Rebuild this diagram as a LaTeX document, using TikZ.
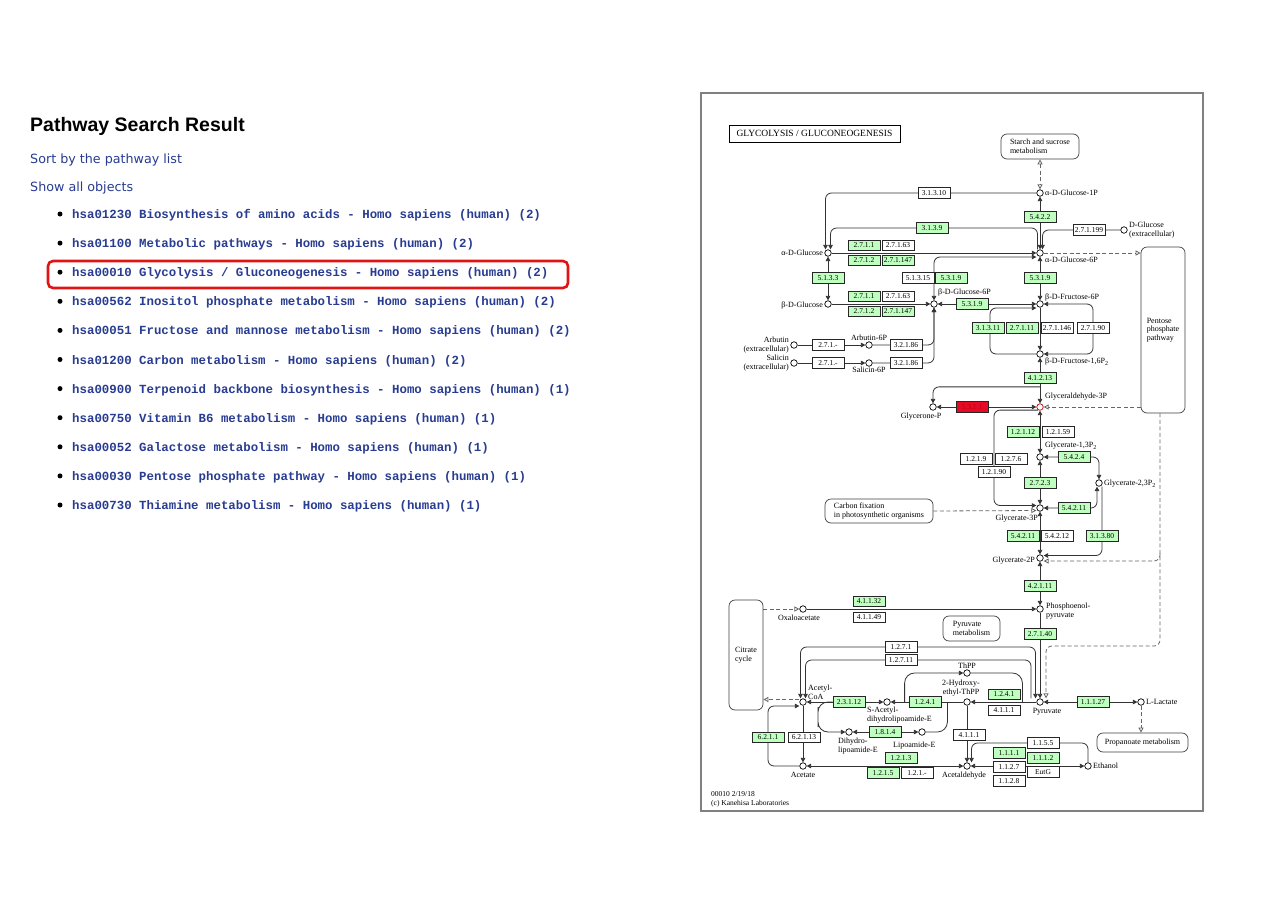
\documentclass[tikz,border=0pt]{standalone}
\usepackage{fontspec}
\setmainfont{Liberation Serif}
\newfontfamily\headfont{Liberation Sans}
\newfontfamily\linkfont{DejaVu Sans}
\newfontfamily\codefont{Liberation Mono}
\usepackage{tikz}
\usetikzlibrary{positioning,arrows.meta,calc}
\pgfdeclarelayer{wires}
\pgfsetlayers{wires,main}
\definecolor{keggreen}{RGB}{191,255,191}
\definecolor{linkblue}{RGB}{40,60,145}
\definecolor{hitred}{RGB}{230,10,40}
\definecolor{markred}{RGB}{225,20,20}

\begin{document}
\begin{tikzpicture}[x=1pt, y=-1pt,
    ec/.style={draw=black!85, line width=0.6pt, fill=white, minimum width=32pt, minimum height=10.5pt, inner sep=0pt, font=\fontsize{7.5}{8}\selectfont},
    ecg/.style={ec, fill=keggreen},
    cpd/.style={circle, draw=black, line width=0.7pt, fill=white, minimum size=6.5pt, inner sep=0pt},
    cname/.style={font=\fontsize{8}{8.6}\selectfont, inner sep=0pt},
    mapbox/.style={draw=black!75, line width=0.7pt, rounded corners=6pt, align=left, inner sep=2pt, font=\fontsize{8}{8.6}\selectfont},
    rxn/.style={draw=black!80, line width=0.8pt, rounded corners=6pt},
    fwd/.style={rxn, -{Triangle[length=4.5pt,width=4.5pt]}},
    rev/.style={rxn, {Triangle[length=4.5pt,width=4.5pt]}-{Triangle[length=4.5pt,width=4.5pt]}},
    link/.style={draw=black!60, line width=0.8pt, dash pattern=on 4pt off 2.5pt, rounded corners=6pt, -{Triangle[open,length=5pt,width=5pt]}},
    listitem/.style={anchor=base west, inner sep=0pt, text=linkblue, font=\codefont\bfseries\fontsize{12.4}{14}\selectfont}
]
\useasboundingbox (0,0) rectangle (1280,905);
\begin{pgfonlayer}{wires}
\fill[white] (0,0) rectangle (1280,905);
\end{pgfonlayer}

\node[anchor=base west, inner sep=0pt, font=\headfont\bfseries\fontsize{19.5}{22}\selectfont] (heading) at (30,131.5) {Pathway Search Result};
\node[anchor=base west, inner sep=0pt, text=linkblue, font=\linkfont\fontsize{12.7}{15}\selectfont] (sortlink) at (30,163) {Sort by the pathway list};
\node[anchor=base west, inner sep=0pt, text=linkblue, font=\linkfont\fontsize{12.7}{15}\selectfont] (showlink) at (30,191) {Show all objects};
\foreach \entry [count=\i] in {
  hsa01230 Biosynthesis of amino acids - Homo sapiens (human) (2),
  hsa01100 Metabolic pathways - Homo sapiens (human) (2),
  hsa00010 Glycolysis / Gluconeogenesis - Homo sapiens (human) (2),
  hsa00562 Inositol phosphate metabolism - Homo sapiens (human) (2),
  hsa00051 Fructose and mannose metabolism - Homo sapiens (human) (2),
  hsa01200 Carbon metabolism - Homo sapiens (human) (2),
  hsa00900 Terpenoid backbone biosynthesis - Homo sapiens (human) (1),
  hsa00750 Vitamin B6 metabolism - Homo sapiens (human) (1),
  hsa00052 Galactose metabolism - Homo sapiens (human) (1),
  hsa00030 Pentose phosphate pathway - Homo sapiens (human) (1),
  hsa00730 Thiamine metabolism - Homo sapiens (human) (1)}{
  \node[listitem] (entry\i) at (72,{218.5+29.1*(\i-1)}) {\entry};
  \node[circle, fill=black, inner sep=0pt, minimum size=5pt] (dot\i) at (60,{214+29.1*(\i-1)}) {};
}
\node[draw=markred, line width=2.6pt, rounded corners=5pt, minimum width=520pt, minimum height=27pt, inner sep=0pt] (hitframe) at (308,274.5) {};

\node[draw=black!50, line width=1.3pt, minimum width=502pt, minimum height=718pt, inner sep=0pt] (mapframe) at (952,452) {};
\node[draw=black, line width=0.9pt, minimum width=171pt, minimum height=17pt, inner sep=0pt, font=\fontsize{9.5}{10}\selectfont] (maptitle) at (814.5,133.5) {GLYCOLYSIS / GLUCONEOGENESIS};
\node[anchor=north west, align=left, inner sep=0pt, font=\fontsize{7.5}{9}\selectfont] (stamp) at (711,791) {00010 2/19/18\\(c) Kanehisa Laboratories};

\node[mapbox, minimum width=78pt, minimum height=25pt] (starch) at (1040,146.5) {Starch and sucrose\\metabolism};
\node[mapbox, minimum width=44pt, minimum height=166pt] (pentose) at (1163,330) {Pentose\\phosphate\\pathway};
\node[mapbox, minimum width=108pt, minimum height=24pt] (carbon) at (879,511) {Carbon fixation\\in photosynthetic organisms};
\node[mapbox, minimum width=34pt, minimum height=110pt] (citrate) at (746,655) {Citrate\\cycle};
\node[mapbox, minimum width=57pt, minimum height=25pt] (pyrmet) at (971.5,628.5) {Pyruvate\\metabolism};
\node[mapbox, minimum width=91pt, minimum height=19pt] (propmet) at (1142.5,742.5) {Propanoate metabolism};

\node[cpd] (aglc) at (828,253) {};
\node[cpd] (bglc) at (828,304) {};
\node[cpd] (ag1p) at (1040,193) {};
\node[cpd] (ag6p) at (1040,253) {};
\node[cpd] (dglc) at (1124,230) {};
\node[cpd] (bg6p) at (934,304) {};
\node[cpd] (f6p) at (1040,304) {};
\node[cpd] (fbp) at (1040,354) {};
\node[cpd, draw=red!75!black] (gap) at (1040,407) {};
\node[cpd] (dhap) at (933,407) {};
\node[cpd] (bpg13) at (1040,457) {};
\node[cpd] (bpg23) at (1099,483) {};
\node[cpd] (pg3) at (1040,508) {};
\node[cpd] (pg2) at (1040,558) {};
\node[cpd] (pep) at (1040,609) {};
\node[cpd] (oaa) at (803,609) {};
\node[cpd] (pyr) at (1040,702) {};
\node[cpd] (lac) at (1141,702) {};
\node[cpd] (accoa) at (803,702) {};
\node[cpd] (thpp) at (967,673) {};
\node[cpd] (hetpp) at (967,702) {};
\node[cpd] (sacl) at (887,702) {};
\node[cpd] (dhl) at (849,732) {};
\node[cpd] (lip) at (922,732) {};
\node[cpd] (acet) at (803,766) {};
\node[cpd] (acald) at (967,766) {};
\node[cpd] (etoh) at (1088,766) {};
\node[cpd] (arb) at (794,345) {};
\node[cpd] (arb6p) at (869,345) {};
\node[cpd] (sal) at (794,363) {};
\node[cpd] (sal6p) at (869,363) {};

\node[cname, anchor=east] (aglcname) at ($(aglc)+(-5,0)$) {α-D-Glucose};
\node[cname, anchor=east] (bglcname) at ($(bglc)+(-5,2)$) {β-D-Glucose};
\node[cname, anchor=west] (ag1pname) at ($(ag1p)+(5,0)$) {α-D-Glucose-1P};
\node[cname, anchor=west] (ag6pname) at ($(ag6p)+(5,7)$) {α-D-Glucose-6P};
\node[cname, anchor=west, align=left] (dglcname) at ($(dglc)+(5,0)$) {D-Glucose\\(extracellular)};
\node[cname, anchor=west] (bg6pname) at ($(bg6p)+(4,-11)$) {β-D-Glucose-6P};
\node[cname, anchor=west] (f6pname) at ($(f6p)+(5,-6)$) {β-D-Fructose-6P};
\node[cname, anchor=west] (fbpname) at ($(fbp)+(5,8)$) {β-D-Fructose-1,6P\textsubscript{2}};
\node[cname, anchor=west] (gapname) at ($(gap)+(5,-10)$) {Glyceraldehyde-3P};
\node[cname, anchor=north] (dhapname) at ($(dhap)+(-12,6)$) {Glycerone-P};
\node[cname, anchor=west] (bpg13name) at ($(bpg13)+(5,-11)$) {Glycerate-1,3P\textsubscript{2}};
\node[cname, anchor=west] (bpg23name) at ($(bpg23)+(5,1)$) {Glycerate-2,3P\textsubscript{2}};
\node[cname, anchor=east] (pg3name) at ($(pg3)+(-2,11)$) {Glycerate-3P};
\node[cname, anchor=east] (pg2name) at ($(pg2)+(-5,3)$) {Glycerate-2P};
\node[cname, anchor=west, align=left] (pepname) at ($(pep)+(6,2)$) {Phosphoenol-\\pyruvate};
\node[cname, anchor=north] (oaaname) at ($(oaa)+(-4,6)$) {Oxaloacetate};
\node[cname, anchor=north] (pyrname) at ($(pyr)+(7,6)$) {Pyruvate};
\node[cname, anchor=west] (lacname) at ($(lac)+(5,0)$) {L-Lactate};
\node[cname, anchor=west, align=left] (accoaname) at ($(accoa)+(5,-10)$) {Acetyl-\\CoA};
\node[cname, anchor=south] (thppname) at ($(thpp)+(0,-4)$) {ThPP};
\node[cname, anchor=south, align=center] (hetppname) at ($(hetpp)+(-6,-6)$) {2-Hydroxy-\\ethyl-ThPP};
\node[cname, anchor=north west, align=left] (saclname) at ($(sacl)+(-20,5)$) {S-Acetyl-\\dihydrolipoamide-E};
\node[cname, anchor=north west, align=left] (dhlname) at ($(dhl)+(-11,6)$) {Dihydro-\\lipoamide-E};
\node[cname, anchor=west] (lipname) at ($(lip)+(-29,14)$) {Lipoamide-E};
\node[cname, anchor=north] (acetname) at ($(acet)+(0,6)$) {Acetate};
\node[cname, anchor=north] (acaldname) at ($(acald)+(-3,6)$) {Acetaldehyde};
\node[cname, anchor=west] (etohname) at ($(etoh)+(5,0)$) {Ethanol};
\node[cname, anchor=east, align=right] (arbname) at ($(arb)+(-5,0)$) {Arbutin\\(extracellular)};
\node[cname, anchor=south] (arb6pname) at ($(arb6p)+(0,-4)$) {Arbutin-6P};
\node[cname, anchor=east, align=right] (salname) at ($(sal)+(-5,0)$) {Salicin\\(extracellular)};
\node[cname, anchor=north] (sal6pname) at ($(sal6p)+(0,4)$) {Salicin-6P};

\node[ec] (e31310) at (934,193) {3.1.3.10};
\node[ecg] (e3139) at (932,228) {3.1.3.9};
\node[ecg] (e5422) at (1040,217) {5.4.2.2};
\node[ec] (e271199) at (1089,230) {2.7.1.199};
\node[ecg] (e2711a) at (864,245.5) {2.7.1.1};
\node[ec] (e27163a) at (898,245.5) {2.7.1.63};
\node[ecg] (e2712a) at (864,260.5) {2.7.1.2};
\node[ecg] (e271147a) at (898,260.5) {2.7.1.147};
\node[ecg] (e5133) at (828,278) {5.1.3.3};
\node[ec] (e51315) at (918,278) {5.1.3.15};
\node[ecg] (e5319a) at (951,278) {5.3.1.9};
\node[ecg] (e5319b) at (1040,278) {5.3.1.9};
\node[ecg] (e2711b) at (864,296.5) {2.7.1.1};
\node[ec] (e27163b) at (898,296.5) {2.7.1.63};
\node[ecg] (e2712b) at (864,311.5) {2.7.1.2};
\node[ecg] (e271147b) at (898,311.5) {2.7.1.147};
\node[ecg] (e5319c) at (972,304) {5.3.1.9};
\node[ecg] (e31311) at (988,328) {3.1.3.11};
\node[ecg] (e27111) at (1022,328) {2.7.1.11};
\node[ec] (e271146) at (1057,328) {2.7.1.146};
\node[ec] (e27190) at (1093,328) {2.7.1.90};
\node[ec] (e2717a) at (828,345) {2.7.1.-};
\node[ec] (e32186a) at (906,345) {3.2.1.86};
\node[ec] (e2717b) at (828,363) {2.7.1.-};
\node[ec] (e32186b) at (906,363) {3.2.1.86};
\node[ecg] (e41213) at (1040,378) {4.1.2.13};
\node[ec, fill=hitred, text=red!75!black] (e5311) at (972,407) {5.3.1.1};
\node[ecg] (e12112) at (1023,432) {1.2.1.12};
\node[ec] (e12159) at (1058,432) {1.2.1.59};
\node[ec] (e1219) at (976,459) {1.2.1.9};
\node[ec] (e1276) at (1011,459) {1.2.7.6};
\node[ec] (e12190) at (994,472) {1.2.1.90};
\node[ecg] (e5424) at (1074,457) {5.4.2.4};
\node[ecg] (e2723) at (1040,483) {2.7.2.3};
\node[ecg] (e54211a) at (1074,508) {5.4.2.11};
\node[ecg] (e54211b) at (1023,536) {5.4.2.11};
\node[ec] (e54212) at (1057,536) {5.4.2.12};
\node[ecg] (e31380) at (1102,536) {3.1.3.80};
\node[ecg] (e42111) at (1040,586) {4.2.1.11};
\node[ecg] (e41132) at (869,601.5) {4.1.1.32};
\node[ec] (e41149) at (869,617.5) {4.1.1.49};
\node[ecg] (e27140) at (1040,634) {2.7.1.40};
\node[ec] (e1271) at (901,647) {1.2.7.1};
\node[ec] (e12711) at (901,660) {1.2.7.11};
\node[ecg] (e23112) at (849,702) {2.3.1.12};
\node[ecg] (e1241a) at (925,702) {1.2.4.1};
\node[ecg] (e1241b) at (1004,694.5) {1.2.4.1};
\node[ec] (e4111a) at (1004,710.5) {4.1.1.1};
\node[ecg] (e11127) at (1093,702) {1.1.1.27};
\node[ecg] (e1814) at (885,732) {1.8.1.4};
\node[ec] (e4111b) at (969,735) {4.1.1.1};
\node[ecg] (e6211) at (768,737.5) {6.2.1.1};
\node[ec] (e62113) at (804,737.5) {6.2.1.13};
\node[ecg] (e1213) at (901,758) {1.2.1.3};
\node[ecg] (e1215) at (883,773) {1.2.1.5};
\node[ec] (e121x) at (917,773) {1.2.1.-};
\node[ec] (e1155) at (1043,743) {1.1.5.5};
\node[ecg] (e1111) at (1009,753) {1.1.1.1};
\node[ecg] (e1112) at (1043,758) {1.1.1.2};
\node[ec] (e1127) at (1009,767) {1.1.2.7};
\node[ec] (eEutG) at (1043,772) {EutG};
\node[ec] (e1128) at (1009,781) {1.1.2.8};

\begin{pgfonlayer}{wires}
\draw[fwd] (ag1p.west) -| ($(aglc.north)+(-2.5,0)$);
\draw[fwd] ($(ag6p.north)+(-2.5,0)$) |- (e3139.center) -| ($(aglc.north)+(2.5,0)$);
\draw[rev] (ag1p) -- (ag6p);
\draw[fwd] (dglc.west) -| ($(ag6p.north)+(2.5,0)$);
\draw[link, {Triangle[open,length=5pt,width=5pt]}-{Triangle[open,length=5pt,width=5pt]}] (starch) -- (ag1p);
\draw[rev] (aglc) -- (bglc);
\draw[fwd] (aglc) -- (ag6p);
\draw[rev] (bg6p.north) |- ($(ag6p.west)+(0,4)$);
\draw[link] (ag6p) -- (pentose.west |- ag6p);
\draw[rev] (ag6p) -- (f6p);
\draw[fwd] (bglc) -- (bg6p);
\draw[rev] (bg6p) -- (f6p);
\draw[fwd] (arb) -- (arb6p);
\draw[fwd] (arb6p) -| (bg6p.south);
\draw[fwd] (sal) -- (sal6p);
\draw[fwd] (sal6p) -| (bg6p.south);
\draw[fwd] (f6p) -- (fbp);
\draw[fwd] (fbp.west) -| (990,330) |- ($(f6p.west)+(0,4)$);
\draw[rev] (f6p.east) -| (1093,330) |- (fbp.east);
\draw[rev] (fbp) -- (gap);
\draw[fwd] ($(fbp)!0.62!(gap)$) -| (dhap.north);
\draw[rev] (dhap) -- (gap);
\draw[link] (pentose.west |- gap) -- (gap);
\draw[rev] (gap) -- (bpg13);
\draw[fwd] (gap.240) -| (994,440) |- ($(pg3.west)+(0,-2.5)$);
\draw[rev] (bpg13) -- (pg3);
\draw[rev] (bpg13.east) -| (bpg23.north);
\draw[rev] (pg3.east) -| ($(bpg23.south)+(-2,0)$);
\draw[fwd] ($(bpg23.south)+(3,0)$) |- ($(pg2.east)+(0,-2.5)$);
\draw[link] (carbon.east) -- ($(pg3.west)+(0,2.5)$);
\draw[rev] (pg3) -- (pg2);
\draw[rev] (pg2) -- (pep);
\draw[link] ($(pentose.south)+(-3,0)$) |- (1100,646) -| ($(pyr.north)+(6,0)$);
\draw[link] ($(pentose.south)+(-3,140)$) |- ($(pg2.east)+(0,3)$);
\draw[fwd] (oaa) -- (pep);
\draw[link] (citrate.east |- oaa) -- (oaa);
\draw[fwd] (pep) -- (pyr);
\draw[rev] ($(pyr.north)+(-4.5,0)$) |- (e1271.center) -| ($(accoa.north)+(-2.5,0)$);
\draw[fwd] ($(pyr.north)+(-9,0)$) |- (e12711.center) -| ($(accoa.north)+(2.5,0)$);
\draw[rev] (pyr) -- (lac);
\draw[link] (lac) -- (lac |- propmet.north);
\draw[fwd] (pyr) -- (hetpp);
\draw[rxn, rounded corners=10pt] (thpp) -| ($(pyr.west)+(-14,0)$);
\draw[fwd] (hetpp) -- (sacl);
\draw[fwd, rounded corners=10pt] ($(sacl.east)+(14,0)$) |- (thpp);
\draw[rxn, rounded corners=10pt] (lip.east) -| ($(hetpp.west)+(-16,0)$);
\draw[rev] (sacl) -- (accoa);
\draw[fwd, rounded corners=10pt] ($(accoa.east)+(26,0)$) -| (818,717) |- (dhl);
\draw[rev] (dhl) -- (lip);
\draw[fwd] (hetpp) -- (acald);
\draw[fwd] (etoh.north) |- (e1155.center) -| ($(acald.north)+(4.5,0)$);
\draw[rev] (acald) -- (etoh);
\draw[rev] (acald) -- (acet);
\draw[fwd] (accoa) -- (acet);
\draw[fwd] (acet) -| (768,720) |- ($(accoa.west)+(0,4)$);
\draw[link] ($(accoa.west)+(0,-2.5)$) -- ($(citrate.east |- accoa)+(0,-2.5)$);
\end{pgfonlayer}
\end{tikzpicture}
\end{document}
